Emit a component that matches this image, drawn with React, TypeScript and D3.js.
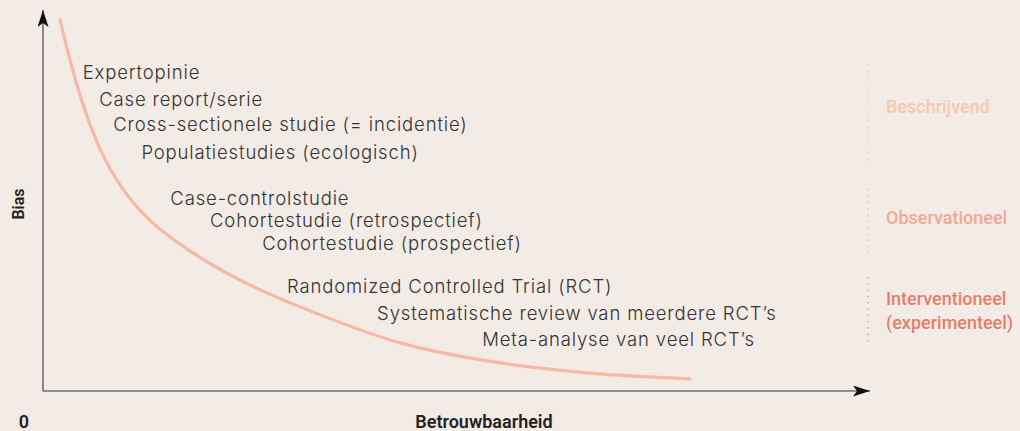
import React from "react";
import * as d3 from "d3";

// Curve of bias vs reliability (domain units 0-100)
const curveX = [2.06, 3.02, 4.11, 5.44, 6.89, 9.31, 12.9, 17.8, 23.8, 31.1, 43.2, 55.3, 67.4, 78.2];
const curveY = [97.9, 89.4, 80.7, 71.8, 63.9, 54.4, 45.1, 36.9, 29.3, 22.2, 12.7, 7.4, 4.5, 3.2];

// Study types: label, x (domain), y (domain)
const studyLabels = [
  "Expertopinie",
  "Case report/serie",
  "Cross-sectionele studie (= incidentie)",
  "Populatiestudies (ecologisch)",
  "Case-controlstudie",
  "Cohortestudie (retrospectief)",
  "Cohortestudie (prospectief)",
  "Randomized Controlled Trial (RCT)",
  "Systematische review van meerdere RCT\u2019s",
  "Meta-analyse van veel RCT\u2019s",
];
const studyX = [4.8, 6.8, 8.5, 11.9, 15.4, 20.2, 26.5, 29.5, 40.4, 53.1];
const studyY = [82.3, 75.2, 68.6, 61.2, 49.1, 43.3, 37.2, 25.9, 18.7, 11.9];

// Category groups: label lines, y-range of dotted bracket, colors
const groupLines = [["Beschrijvend"], ["Observationeel"], ["Interventioneel", "(experimenteel)"]];
const groupY = [73.4, 44.1, 22.7];
const groupTop = [86.3, 53.3, 30.1];
const groupBottom = [59.4, 36.4, 12.1];
const groupColors = ["#f5c8b8", "#f0a994", "#e4806a"];

const W = 1020;
const H = 431;

export default function App() {
  const x = d3.scaleLinear().domain([0, 100]).range([43, 870]);
  const y = d3.scaleLinear().domain([0, 100]).range([391, 12]);

  const pts: [number, number][] = curveX.map((v, i) => [x(v), y(curveY[i])]);
  const line = d3.line().curve(d3.curveCatmullRom.alpha(0.5))(pts) || "";

  const font = "Inter, 'Noto Sans', sans-serif";
  const textColor = "#333333";
  const axisColor = "#6f6f6f";
  const bracketX = 868;

  return (
    <svg
      width={W}
      height={H}
      style={{ position: "absolute", left: 0, top: 0, background: "#f3ebe6" }}
    >
      <defs>
        <marker
          id="arrow"
          viewBox="0 0 17 11"
          refX="17"
          refY="5.5"
          markerWidth="17"
          markerHeight="11"
          markerUnits="userSpaceOnUse"
          orient="auto"
        >
          <path d="M0,0 L17,5.5 L0,11 L4,5.5 Z" fill="#111" />
        </marker>
      </defs>
      <rect x={0} y={0} width={W} height={H} fill="#f3ebe6" />

      {/* axes */}
      <line x1={x(0)} y1={y(0)} x2={x(0)} y2={y(100) - 2} stroke={axisColor} strokeWidth={1.6} markerEnd="url(#arrow)" />
      <line x1={x(0)} y1={y(0)} x2={x(100)} y2={y(0)} stroke={axisColor} strokeWidth={1.6} markerEnd="url(#arrow)" />

      {/* curve */}
      <path d={line} fill="none" stroke="#f7b8a5" strokeWidth={3.2} strokeLinecap="round" />

      {/* study labels */}
      {studyLabels.map((s, i) => (
        <text
          key={s}
          x={x(studyX[i])}
          y={y(studyY[i])}
          fontFamily={font}
          fontSize={18.5}
          fontWeight={300}
          letterSpacing={0.85}
          fill={textColor}
        >
          {s}
        </text>
      ))}

      {/* group brackets and labels */}
      {groupLines.map((lines, i) => (
        <g key={i}>
          <line
            x1={bracketX}
            x2={bracketX}
            y1={y(groupTop[i])}
            y2={y(groupBottom[i])}
            stroke={groupColors[i]}
            strokeWidth={1.3}
            strokeDasharray="1.3 5"
            opacity={0.8}
          />
          {lines.map((l, j) => (
            <text
              key={l}
              x={886}
              y={y(groupY[i]) + j * 24}
              fontFamily="Roboto, sans-serif"
              fontSize={18}
              fontWeight={500}
              fill={groupColors[i]}
            >
              {l}
            </text>
          ))}
        </g>
      ))}

      {/* axis labels */}
      <text x={24} y={428} fontFamily="Roboto, sans-serif" fontSize={18} fontWeight={600} fill="#222" textAnchor="middle">
        0
      </text>
      <text x={484} y={428} fontFamily="Roboto, sans-serif" fontSize={18} fontWeight={600} fill="#222" textAnchor="middle">
        Betrouwbaarheid
      </text>
      <text
        transform="translate(24,204) rotate(-90)"
        fontFamily="Roboto, sans-serif"
        fontSize={16}
        fontWeight={600}
        fill="#222"
        textAnchor="middle"
      >
        Bias
      </text>
    </svg>
  );
}
